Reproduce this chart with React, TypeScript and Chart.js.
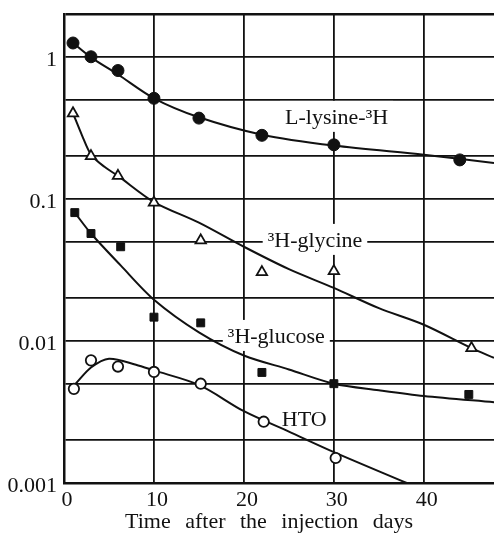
import React, { useEffect, useRef } from "react";
import { Chart, registerables } from "chart.js";
Chart.register(...registerables);

// Measured points
const LYSINE_DAYS = [1, 3, 6, 10, 15, 22, 30, 44];
const LYSINE = [1.25, 1.0, 0.8, 0.51, 0.37, 0.28, 0.24, 0.188];
const GLYCINE_DAYS = [1, 3, 6, 10, 15.2, 22, 30, 45.3];
const GLYCINE = [0.4, 0.2, 0.145, 0.094, 0.051, 0.0305, 0.031, 0.0089];
const GLUCOSE_DAYS = [1.2, 3, 6.3, 10, 15.2, 22, 30, 45];
const GLUCOSE = [0.08, 0.057, 0.046, 0.0147, 0.0134, 0.006, 0.005, 0.0042];
const HTO_DAYS = [1.1, 3, 6, 10, 15.2, 22.2, 30.2];
const HTO = [0.0046, 0.0073, 0.0066, 0.00605, 0.005, 0.0027, 0.0015];

// Fitted curves
const LYSINE_FIT_DAYS = [1, 3, 6, 10, 15, 22, 30, 40, 47.8];
const LYSINE_FIT = [1.25, 0.99, 0.75, 0.51, 0.375, 0.283, 0.237, 0.204, 0.179];
const GLYCINE_FIT_DAYS = [1, 2, 3, 4.5, 6, 10, 15, 20, 25, 30, 35, 40, 45.3, 47.8];
const GLYCINE_FIT = [0.4, 0.28, 0.205, 0.168, 0.145, 0.095, 0.068, 0.046, 0.032, 0.0236, 0.017, 0.013, 0.0089, 0.0076];
const GLUCOSE_FIT_DAYS = [1.2, 3, 6.3, 10, 15, 20, 25, 30, 35, 40, 47.8];
const GLUCOSE_FIT = [0.08, 0.057, 0.034, 0.0195, 0.0115, 0.0079, 0.0063, 0.005, 0.0045, 0.0041, 0.0037];
const HTO_FIT_DAYS = [1.3, 3, 5, 8, 10, 15, 20, 25, 30, 38.1];
const HTO_FIT = [0.005, 0.0065, 0.0075, 0.0068, 0.0062, 0.0049, 0.0032, 0.0023, 0.00165, 0.001];

// Axes
const X_TICKS = [0, 10, 20, 30, 40];
const Y_GRID = [0.001, 0.002, 0.005, 0.01, 0.02, 0.05, 0.1, 0.2, 0.5, 1, 2];
const Y_LABELED = [0.001, 0.01, 0.1, 1];
const X_TITLE = "Time after the injection days";
const X_TITLE_CENTER_DAY = 22.8;

// Curve labels (text, centre day, baseline value)
const LABEL_TEXTS = ["L-lysine-³H", "³H-glycine", "³H-glucose", "HTO"];
const LABEL_DAYS = [30.3, 27.9, 23.6, 26.7];
const LABEL_VALUES = [0.337, 0.0459, 0.00968, 0.00252];

const FONT = "'Liberation Serif', 'Times New Roman', serif";
const INK = "#111";

const zip = (xs: number[], ys: number[]) => xs.map((x, i) => ({ x, y: ys[i] }));

const labelPlugin = {
  id: "curveLabels",
  beforeDatasetsDraw(chart: any) {
    const { ctx, scales, chartArea } = chart;
    ctx.save();
    ctx.beginPath();
    ctx.rect(chartArea.left, chartArea.top, chartArea.right - chartArea.left, chartArea.bottom - chartArea.top);
    ctx.clip();
    ctx.font = `22px ${FONT}`;
    ctx.textAlign = "center";
    ctx.textBaseline = "alphabetic";
    LABEL_TEXTS.forEach((t, i) => {
      const px = scales.x.getPixelForValue(LABEL_DAYS[i]);
      const py = scales.y.getPixelForValue(LABEL_VALUES[i]);
      const w = ctx.measureText(t).width;
      ctx.fillStyle = "#fff";
      ctx.fillRect(px - w / 2 - 5, py - 23, w + 10, 31);
      ctx.fillStyle = INK;
      ctx.fillText(t, px, py);
    });
    ctx.restore();
  },
  afterDraw(chart: any) {
    const { ctx, scales } = chart;
    ctx.save();
    ctx.font = `22px ${FONT}`;
    ctx.fillStyle = INK;
    ctx.textAlign = "left";
    ctx.textBaseline = "alphabetic";
    const words = X_TITLE.split(" ");
    const gap = ctx.measureText(" ").width + 9;
    const widths = words.map((w: string) => ctx.measureText(w).width);
    const total = widths.reduce((a: number, b: number) => a + b, 0) + gap * (words.length - 1);
    let x = scales.x.getPixelForValue(X_TITLE_CENTER_DAY) - total / 2;
    const y = chart.height - 13;
    words.forEach((w: string, i: number) => {
      ctx.fillText(w, x, y);
      x += widths[i] + gap;
    });
    ctx.restore();
  },
};

export default function App() {
  const ref = useRef<HTMLCanvasElement>(null);
  useEffect(() => {
    document.body.style.margin = "0";
    const lineDs = (data: any[]) => ({
      data,
      showLine: true,
      borderColor: INK,
      borderWidth: 2,
      pointRadius: 0,
      tension: 0.3,
      fill: false,
      order: 2,
    });
    const ptDs = (data: any[], style: string, filled: boolean, r: number) => ({
      data,
      showLine: false,
      pointStyle: style,
      pointRadius: r,
      pointBackgroundColor: filled ? INK : "#fff",
      pointBorderColor: INK,
      pointBorderWidth: filled ? 1 : 1.8,
      order: 1,
    });
    const chart = new Chart(ref.current!, {
      type: "line",
      data: {
        datasets: [
          ptDs(zip(LYSINE_DAYS, LYSINE), "circle", true, 6),
          ptDs(zip(GLYCINE_DAYS, GLYCINE), "triangle", false, 6),
          ptDs(zip(GLUCOSE_DAYS, GLUCOSE), "rect", true, 5.6),
          ptDs(zip(HTO_DAYS, HTO), "circle", false, 5.2),
          lineDs(zip(LYSINE_FIT_DAYS, LYSINE_FIT)),
          lineDs(zip(GLYCINE_FIT_DAYS, GLYCINE_FIT)),
          lineDs(zip(GLUCOSE_FIT_DAYS, GLUCOSE_FIT)),
          lineDs(zip(HTO_FIT_DAYS, HTO_FIT)),
        ] as any,
      },
      options: {
        animation: false,
        responsive: false,
        layout: { autoPadding: false, padding: { top: 14, right: 0, left: 0, bottom: 0 } },
        plugins: { legend: { display: false }, tooltip: { enabled: false } },
        scales: {
          x: {
            type: "linear",
            min: 0,
            max: 47.8,
            afterBuildTicks: (s: any) => {
              s.ticks = X_TICKS.map((v) => ({ value: v }));
            },
            afterFit: (s: any) => {
              s.height = 58;
              s.paddingLeft = 0;
              s.paddingRight = 0;
            },
            ticks: {
              padding: 4,
              labelOffset: 3,
              color: INK,
              font: { family: FONT, size: 22 },
            },
            grid: { color: INK, lineWidth: 1.8, drawTicks: false },
            border: { display: true, color: INK, width: 2.5 },
          },
          y: {
            type: "logarithmic",
            min: 0.001,
            max: 2,
            afterBuildTicks: (s: any) => {
              s.ticks = Y_GRID.map((v) => ({ value: v }));
            },
            afterFit: (s: any) => {
              s.width = 64;
              s.paddingTop = 0;
              s.paddingBottom = 0;
            },
            ticks: {
              padding: 7,
              labelOffset: 3,
              color: INK,
              font: { family: FONT, size: 22 },
              callback: (v: any) => (Y_LABELED.includes(Number(v)) ? String(v) : ""),
            },
            grid: {
              color: INK,
              lineWidth: (c: any) => (c.tick && c.tick.value === 2 ? 2.5 : 1.8),
              drawTicks: false,
            },
            border: { display: true, color: INK, width: 2.5 },
          },
        },
      },
      plugins: [labelPlugin],
    } as any);
    return () => chart.destroy();
  }, []);
  return <canvas ref={ref} width={494} height={541} style={{ display: "block" }} />;
}
